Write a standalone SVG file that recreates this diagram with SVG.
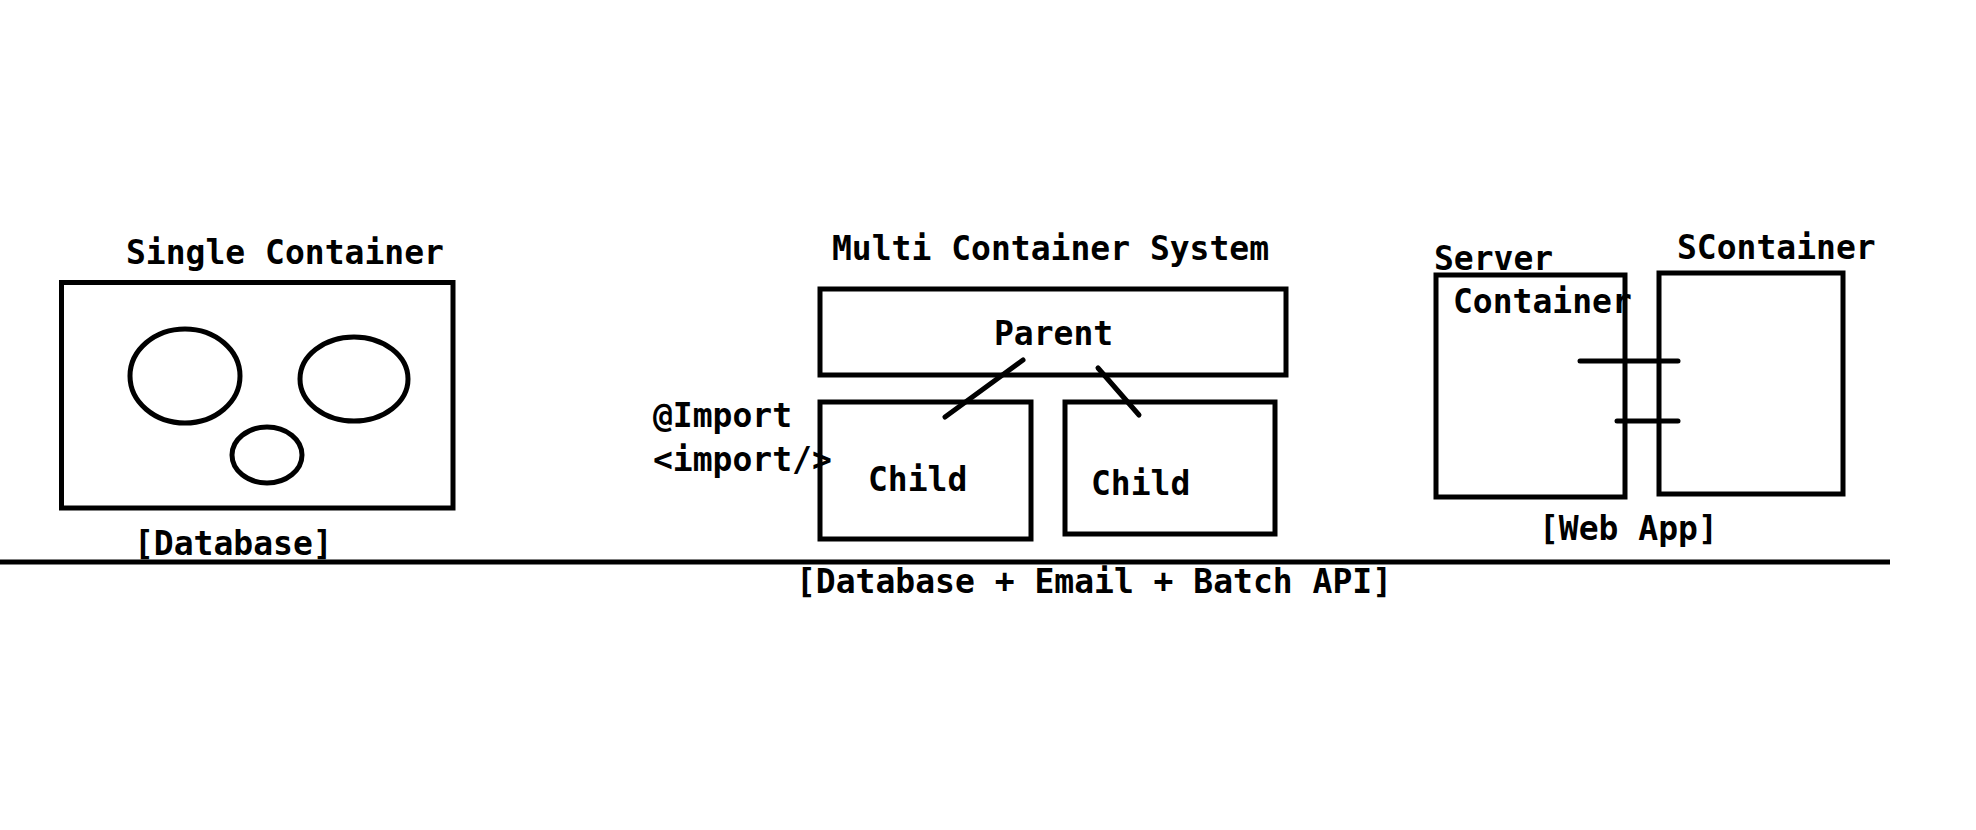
<svg xmlns="http://www.w3.org/2000/svg" width="1976" height="830" viewBox="0 0 1976 830">
<style>
.box{fill:none;stroke:#000;stroke-width:5}
.ln{fill:none;stroke:#000;stroke-width:5;stroke-linecap:round}
text{font-family:"DejaVu Sans Mono","Liberation Mono",monospace;font-weight:bold;font-size:33px;fill:#000}
</style>
<rect width="1976" height="830" fill="#fff"/>
<g id="single-container">
<text x="126" y="264">Single Container</text>
<rect class="box" x="61.5" y="282.5" width="391.5" height="225.5"/>
<ellipse class="box" cx="185" cy="376" rx="55" ry="47"/>
<ellipse class="box" cx="354" cy="379" rx="54" ry="42"/>
<ellipse class="box" cx="267" cy="455" rx="35" ry="28"/>
<text x="134" y="555">[Database]</text>
</g>
<g id="multi-container">
<text x="832" y="260">Multi Container System</text>
</g>
<g id="parent">
<rect class="box" x="820" y="289" width="466" height="86"/>
<text x="994" y="345">Parent</text>
</g>
<g id="child1">
<rect class="box" x="820" y="402" width="211" height="137"/>
<text x="868" y="491">Child</text>
</g>
<g id="child2">
<rect class="box" x="1065" y="402" width="210" height="132"/>
<text x="1091" y="495">Child</text>
</g>
<g id="import-label">
<text x="653" y="427">@Import</text>
<text x="653" y="471">&lt;import/&gt;</text>
</g>
<g id="server-container">
<text x="1434" y="270">Server</text>
<rect class="box" x="1436" y="275" width="189" height="222"/>
<text x="1453" y="313">Container</text>
</g>
<g id="scontainer">
<text x="1677" y="259">SContainer</text>
<rect class="box" x="1659" y="273" width="184" height="221"/>
</g>
<g id="connectors">
<line class="ln" x1="1023" y1="360" x2="945" y2="417"/>
<line class="ln" x1="1098" y1="368" x2="1139" y2="415"/>
<line class="ln" x1="1580" y1="361" x2="1678" y2="361"/>
<line class="ln" x1="1617" y1="421" x2="1678" y2="421"/>
</g>
<g id="baseline">
<line x1="0" y1="562" x2="1890" y2="562" stroke="#000" stroke-width="5"/>
<text x="796" y="593">[Database + Email + Batch API]</text>
<text x="1539" y="540">[Web App]</text>
</g>
</svg>
